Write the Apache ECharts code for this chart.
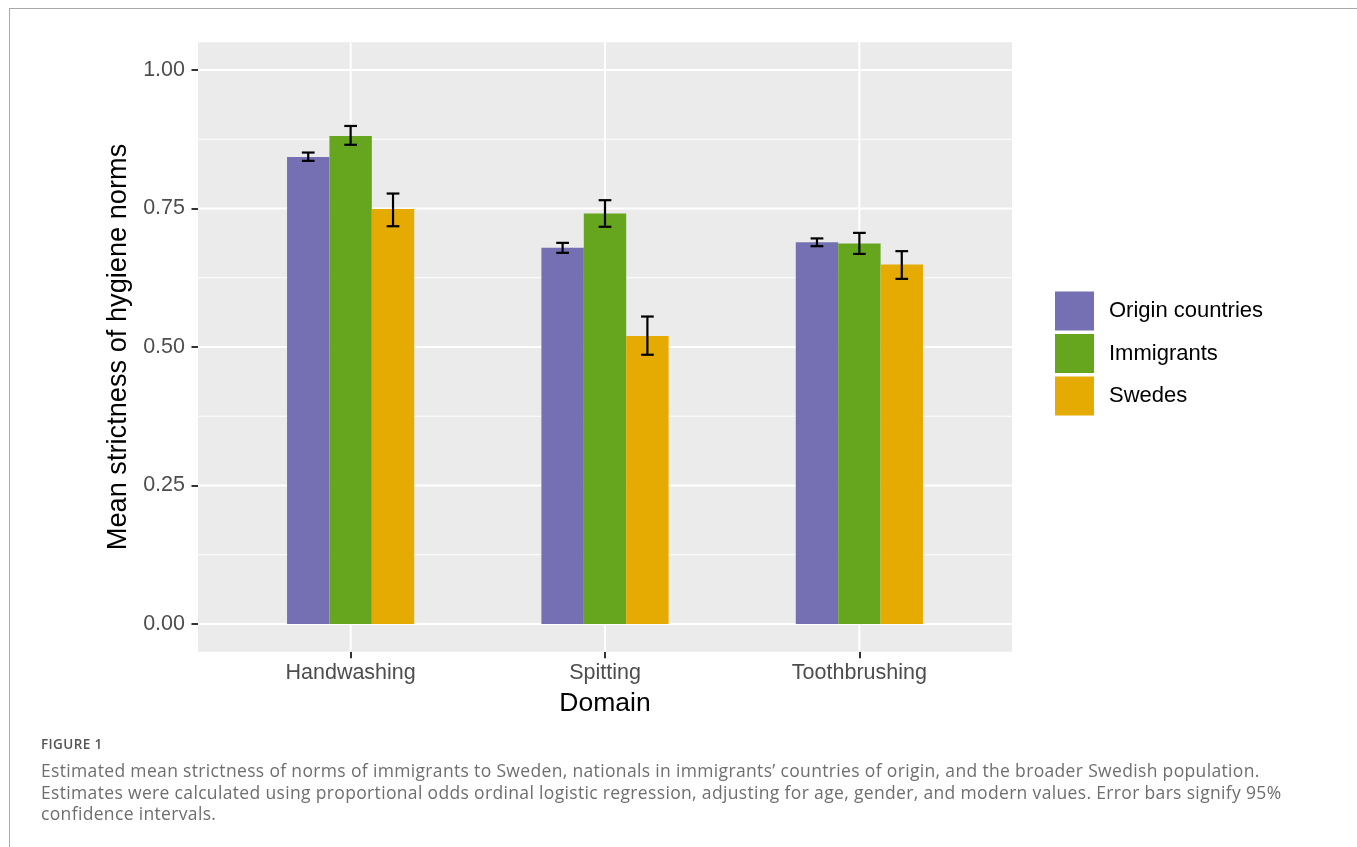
<!DOCTYPE html>
<html>
<head>
<meta charset="utf-8">
<script src="https://cdn.jsdelivr.net/npm/echarts@6/dist/echarts.min.js"></script>
<style>
  html, body { margin:0; padding:0; background:#fff; width:1357px; height:847px; overflow:hidden; }
  #frame { position:absolute; left:9px; top:8px; width:1400px; height:900px; border-left:1.5px solid #a9a9a9; border-top:1.5px solid #a9a9a9; }
  #chart { position:absolute; left:0; top:0; width:1357px; height:847px; }
  .fig { position:absolute; left:41px; top:736px; font-family:'Open Sans', sans-serif; font-size:13.5px; line-height:16px; font-weight:600; color:#555; letter-spacing:0.4px; }
  .cap { position:absolute; left:41px; top:760px; font-family:'Open Sans', sans-serif; font-size:17.5px; line-height:21.5px; color:#6e6e6e; white-space:nowrap; letter-spacing:0.34px; }
</style>
</head>
<body>
<div id="frame"></div>
<div id="chart"></div>
<div class="fig">FIGURE 1</div>
<div class="cap">Estimated mean strictness of norms of immigrants to Sweden, nationals in immigrants’ countries of origin, and the broader Swedish population.<br>Estimates were calculated using proportional odds ordinal logistic regression, adjusting for age, gender, and modern values. Error bars signify 95%<br>confidence intervals.</div>
<script>
// ---- data ----
var categories = ['Handwashing', 'Spitting', 'Toothbrushing'];
var groups = ['Origin countries', 'Immigrants', 'Swedes'];
var originMean = [0.843, 0.679, 0.689];
var originLow  = [0.836, 0.670, 0.682];
var originHigh = [0.851, 0.688, 0.696];
var immigrantsMean = [0.881, 0.741, 0.687];
var immigrantsLow  = [0.865, 0.717, 0.668];
var immigrantsHigh = [0.899, 0.765, 0.706];
var swedesMean = [0.749, 0.520, 0.649];
var swedesLow  = [0.718, 0.486, 0.623];
var swedesHigh = [0.777, 0.555, 0.673];
var yTicks = [0, 0.25, 0.5, 0.75, 1];
var yMinor = [0.125, 0.375, 0.625, 0.875];
var xTicks = [1, 2, 3];

var colors = ['#7570B3', '#66A61E', '#E6AB02'];
var BW = 0.5 / 3;      // bar width in category units
var CAP = 0.05;        // error bar cap width
var FONT = "'Liberation Sans', Arial, sans-serif";

function barSeries(idx, mean, low, high) {
  var offset = (idx - 1) * BW;
  return {
    type: 'custom',
    name: groups[idx],
    coordinateSystem: 'cartesian2d',
    z: 3,
    itemStyle: { color: colors[idx] },
    encode: { x: 0, y: 1 },
    data: categories.map(function (c, i) { return [i + 1, mean[i], low[i], high[i]]; }),
    renderItem: function (params, api) {
      var xc = api.value(0) + offset;
      var p1 = api.coord([xc - BW / 2, api.value(1)]);
      var p2 = api.coord([xc + BW / 2, 0]);
      var top = api.coord([xc, api.value(3)]);
      var bot = api.coord([xc, api.value(2)]);
      var cl = api.coord([xc - CAP / 2, 0])[0];
      var cr = api.coord([xc + CAP / 2, 0])[0];
      var ls = { stroke: '#000', lineWidth: 2.2 };
      return {
        type: 'group',
        children: [
          { type: 'rect', shape: { x: p1[0], y: p1[1], width: p2[0] - p1[0], height: p2[1] - p1[1] }, style: { fill: colors[idx] } },
          { type: 'line', shape: { x1: top[0], y1: top[1], x2: bot[0], y2: bot[1] }, style: ls },
          { type: 'line', shape: { x1: cl, y1: top[1], x2: cr, y2: top[1] }, style: ls },
          { type: 'line', shape: { x1: cl, y1: bot[1], x2: cr, y2: bot[1] }, style: ls }
        ]
      };
    }
  };
}

// grid lines through the axes' scales
var gridData = [];
yMinor.forEach(function (v) { gridData.push([0, v, 1]); });
yTicks.forEach(function (v) { gridData.push([0, v, 2]); });
xTicks.forEach(function (v) { gridData.push([1, v, 2]); });

var gridSeries = {
  type: 'custom',
  name: 'grid',
  coordinateSystem: 'cartesian2d',
  z: 1,
  silent: true,
  data: gridData,
  encode: { x: [], y: [] },
  renderItem: function (params, api) {
    var kind = api.value(0), v = api.value(1), w = api.value(2);
    var a, b;
    if (kind === 0) { a = api.coord([0.4, v]); b = api.coord([3.6, v]); }
    else { a = api.coord([v, -0.05]); b = api.coord([v, 1.05]); }
    return { type: 'line', shape: { x1: a[0], y1: a[1], x2: b[0], y2: b[1] }, style: { stroke: '#fff', lineWidth: w } };
  }
};

var chart = echarts.init(document.getElementById('chart'), null, { renderer: 'canvas' });
chart.setOption({
  animation: false,
  grid: { left: 198, top: 42.3, width: 814, height: 609.4, show: true, backgroundColor: '#EBEBEB', borderWidth: 0 },
  legend: {
    data: groups,
    orient: 'vertical',
    left: 1055, top: 291.5,
    padding: 0,
    icon: 'rect',
    itemWidth: 39, itemHeight: 39, itemGap: 3.5,
    selectedMode: false,
    textStyle: { fontFamily: FONT, fontSize: 22, color: '#000', padding: [0, 0, 0, 10] }
  },
  xAxis: {
    type: 'value', min: 0.4, max: 3.6,
    name: 'Domain', nameLocation: 'middle', nameGap: 38,
    nameTextStyle: { fontFamily: FONT, fontSize: 26.5, color: '#000' },
    axisLine: { show: false, onZero: false },
    axisTick: { show: true, length: 6.5, customValues: xTicks, lineStyle: { color: '#333', width: 2 } },
    axisLabel: { customValues: xTicks, formatter: function (v) { return categories[Math.round(v) - 1]; }, fontFamily: FONT, fontSize: 21.5, color: '#4D4D4D', margin: 10 },
    splitLine: { show: false }
  },
  yAxis: {
    type: 'value', min: -0.05, max: 1.05,
    name: 'Mean strictness of hygiene norms', nameLocation: 'middle', nameGap: 57.5,
    nameTextStyle: { fontFamily: FONT, fontSize: 27.2, color: '#000' },
    axisLine: { show: false, onZero: false },
    axisTick: { show: true, length: 6.5, customValues: yTicks, lineStyle: { color: '#333', width: 2 } },
    axisLabel: { customValues: yTicks, formatter: function (v) { return v.toFixed(2); }, fontFamily: FONT, fontSize: 21.5, color: '#4D4D4D', margin: 13 },
    splitLine: { show: false }
  },
  series: [
    gridSeries,
    barSeries(0, originMean, originLow, originHigh),
    barSeries(1, immigrantsMean, immigrantsLow, immigrantsHigh),
    barSeries(2, swedesMean, swedesLow, swedesHigh)
  ]
});
</script>
</body>
</html>
